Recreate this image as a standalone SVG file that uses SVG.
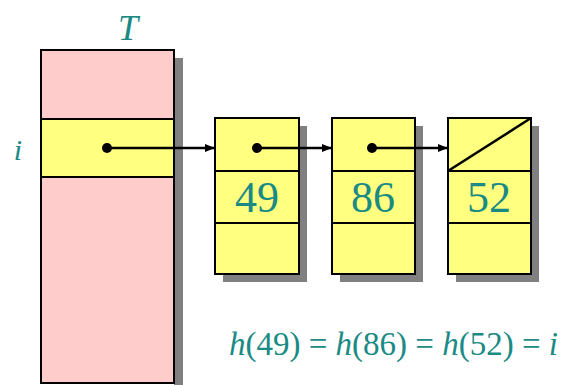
<svg xmlns="http://www.w3.org/2000/svg" width="562" height="385" viewBox="0 0 562 385">
<style>
.sh{fill:#808080}
.cell{stroke:#000;stroke-width:2}
.y{fill:#FFFF80}
.p{fill:#FFCCCC}
.t{fill:#1A8A84}
.num{font-size:44px;text-anchor:middle}
.ln{stroke:#000;stroke-width:2.5;fill:none}
</style>
<defs>
<marker id="ah" markerWidth="10" markerHeight="8" refX="9" refY="4" orient="auto" markerUnits="userSpaceOnUse">
<path d="M0,0 L10,4 L0,8 Z" fill="#000"/>
</marker>
</defs>
<rect width="562" height="385" fill="#fff"/>
<g id="table">
<rect class="sh" x="174" y="58" width="9" height="327"/>
<rect class="p cell" x="41" y="50" width="133" height="333"/>
<rect class="y cell" x="41" y="119" width="133" height="58"/>
<text class="t" font-family="Liberation Serif, DejaVu Serif, serif" x="128" y="40" font-size="36" font-style="italic" text-anchor="middle">T</text>
<text class="t" font-family="Liberation Serif, DejaVu Serif, serif" x="18" y="160" font-size="30" font-style="italic" text-anchor="middle">i</text>
</g>
<g id="node1">
<rect class="sh" x="223" y="126" width="84" height="156"/>
<rect class="y cell" x="215" y="118" width="84" height="156"/>
<line class="cell" x1="215" y1="171" x2="299" y2="171"/>
<line class="cell" x1="215" y1="223" x2="299" y2="223"/>
<text class="t num" font-family="Liberation Serif, DejaVu Serif, serif" x="257" y="212">49</text>
</g>
<g id="node2">
<rect class="sh" x="340" y="126" width="83" height="156"/>
<rect class="y cell" x="332" y="118" width="83" height="156"/>
<line class="cell" x1="332" y1="171" x2="415" y2="171"/>
<line class="cell" x1="332" y1="223" x2="415" y2="223"/>
<text class="t num" font-family="Liberation Serif, DejaVu Serif, serif" x="373" y="212">86</text>
</g>
<g id="node3">
<rect class="sh" x="456" y="126" width="83" height="156"/>
<rect class="y cell" x="448" y="118" width="83" height="156"/>
<line class="cell" x1="448" y1="171" x2="531" y2="171"/>
<line class="cell" x1="448" y1="223" x2="531" y2="223"/>
<line class="ln" x1="448" y1="171" x2="531" y2="118"/>
<text class="t num" font-family="Liberation Serif, DejaVu Serif, serif" x="489" y="212">52</text>
</g>
<g id="connectors">
<circle cx="107" cy="148" r="5" fill="#000"/>
<line class="ln" x1="107" y1="148" x2="214" y2="148" marker-end="url(#ah)"/>
<circle cx="257" cy="148" r="5" fill="#000"/>
<line class="ln" x1="257" y1="148" x2="331" y2="148" marker-end="url(#ah)"/>
<circle cx="372" cy="148" r="5" fill="#000"/>
<line class="ln" x1="372" y1="148" x2="447" y2="148" marker-end="url(#ah)"/>
</g>
<text class="t" font-family="Liberation Serif, DejaVu Serif, serif" x="229" y="355" font-size="33" textLength="329" lengthAdjust="spacing"><tspan font-style="italic">h</tspan>(49) = <tspan font-style="italic">h</tspan>(86) = <tspan font-style="italic">h</tspan>(52) = <tspan font-style="italic">i</tspan></text>
</svg>
